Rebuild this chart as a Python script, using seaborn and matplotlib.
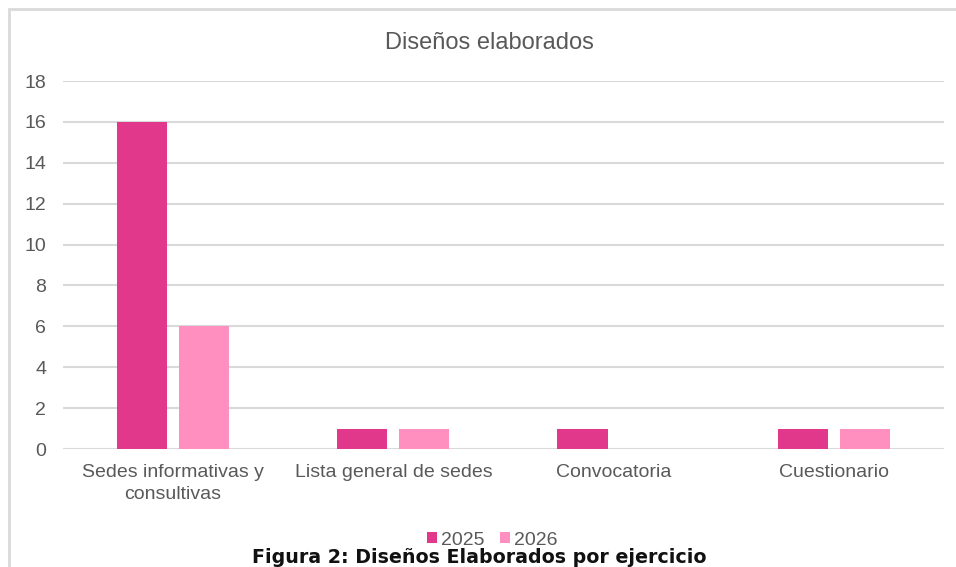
import matplotlib.pyplot as plt
import pandas as pd
import seaborn as sns
from matplotlib.patches import Rectangle

# data
categories = ["Sedes informativas y\nconsultivas", "Lista general de sedes",
              "Convocatoria", "Cuestionario"]
years = ["2025", "2026"]
values_2025 = [16, 1, 1, 1]
values_2026 = [6, 1, 0, 1]
y_ticks = [0, 2, 4, 6, 8, 10, 12, 14, 16, 18]

colors = ["#E2388B", "#FF8FBF"]
grey = "#595959"

df = pd.DataFrame({
    "categoria": categories * 2,
    "anio": [years[0]] * len(categories) + [years[1]] * len(categories),
    "valor": values_2025 + values_2026,
})

sns.set_theme(style="white")
plt.rcParams["font.family"] = ["Liberation Sans", "DejaVu Sans"]

fig = plt.figure(figsize=(9.56, 5.67), dpi=100)
ax = fig.add_axes([0.0659, 0.2081, 0.9215, 0.649])

sns.barplot(data=df, x="categoria", y="valor", hue="anio", palette=colors,
            order=categories, hue_order=years, width=0.5645, gap=0.195,
            saturation=1, linewidth=0, ax=ax)

ax.set_ylim(0, 18)
ax.set_xlim(-0.5, len(categories) - 0.5)
ax.set_yticks(y_ticks)
ax.yaxis.grid(True, color="#d9d9d9", linewidth=1.5)
ax.set_axisbelow(True)
for s in ax.spines.values():
    s.set_visible(False)
ax.set_xlabel("")
ax.set_ylabel("")
ax.tick_params(axis="y", length=0, pad=12, labelsize=14, labelcolor=grey)
ax.tick_params(axis="x", length=0, pad=10.5, labelsize=14, labelcolor=grey)
for lbl in ax.get_xticklabels():
    lbl.set_linespacing(1.4)

ax.get_legend().remove()
handles, labels = ax.get_legend_handles_labels()
fig.legend(handles, labels, loc="center", bbox_to_anchor=(0.515, 0.047), ncol=2,
           frameon=False, fontsize=14, labelcolor=grey, handlelength=0.5,
           handleheight=0.5, handletextpad=0.2, columnspacing=0.8,
           borderaxespad=0, borderpad=0)

fig.text(0.512, 0.924, "Diseños elaborados", ha="center", va="center",
         fontsize=17, color=grey)
fig.text(0.501, 1 - 563 / 567, "Figura 2: Diseños Elaborados por ejercicio",
         ha="center", va="baseline", fontsize=13.7, fontweight="bold",
         color="#111111", family=["DejaVu Sans"])

# chart frame (runs off the right and bottom edges like the screenshot)
fig.patches.append(Rectangle((9 / 956, -0.1), 1.1, 1 - 9 / 567 + 0.1,
                             transform=fig.transFigure, fill=False,
                             edgecolor="#d9d9d9", linewidth=2, zorder=0))

fig.savefig("out.png", dpi=100, facecolor="white")
